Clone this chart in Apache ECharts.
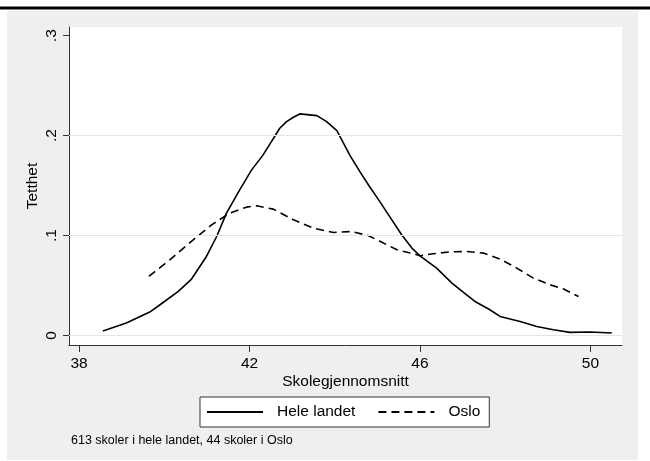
<!DOCTYPE html>
<html>
<head>
<meta charset="utf-8">
<script src="https://cdn.jsdelivr.net/npm/echarts@6/dist/echarts.min.js"></script>
<style>
html,body{margin:0;padding:0;background:#fff;}
#chart{width:650px;height:461px;}
</style>
</head>
<body>
<div id="chart"></div>
<script>
// ---- data ----
const landetX = [38.56, 39.11, 39.66, 39.90, 40.33, 40.64, 40.99, 41.23, 41.46, 41.77, 42.05, 42.32, 42.71, 42.87, 43.03, 43.18, 43.58, 43.81, 44.05, 44.36, 44.59, 44.80, 45.03, 45.34, 45.57, 45.81, 46.00, 46.39, 46.75, 47.02, 47.29, 47.61, 47.88, 48.35, 48.74, 49.13, 49.52, 50.00, 50.50];
const landetY = [0.0044, 0.0124, 0.0234, 0.0307, 0.044, 0.0564, 0.079, 0.099, 0.1224, 0.1457, 0.1657, 0.1807, 0.2074, 0.214, 0.2184, 0.2217, 0.220, 0.214, 0.205, 0.180, 0.164, 0.150, 0.1357, 0.1157, 0.1007, 0.0874, 0.0797, 0.0674, 0.0524, 0.043, 0.034, 0.0264, 0.019, 0.014, 0.009, 0.0057, 0.003, 0.0034, 0.0024];
const osloX = [39.64, 40.13, 40.68, 41.11, 41.54, 41.93, 42.17, 42.56, 43.03, 43.50, 43.97, 44.39, 44.78, 45.07, 45.46, 45.85, 46.00, 46.31, 46.71, 47.10, 47.49, 47.88, 48.27, 48.66, 49.05, 49.37, 49.72];
const osloY = [0.059, 0.0757, 0.0957, 0.1107, 0.1224, 0.1284, 0.1297, 0.1264, 0.1157, 0.1074, 0.103, 0.104, 0.100, 0.094, 0.0857, 0.0817, 0.0797, 0.0817, 0.0837, 0.084, 0.0824, 0.0764, 0.0674, 0.0574, 0.0507, 0.0464, 0.039];
const xTicks = [38, 42, 46, 50];
const yTicks = [0, 0.1, 0.2, 0.3];
const yTickLabels = ['0', '.1', '.2', '.3'];
const gridLines = [0, 0.1, 0.2];
const seriesNames = ['Hele landet', 'Oslo'];
const xTitle = 'Skolegjennomsnitt';
const yTitle = 'Tetthet';
const note = '613 skoler i hele landet, 44 skoler i Oslo';

const zip = (xs, ys) => xs.map((x, i) => [x, ys[i]]);
const FONT = '"Liberation Sans", Arial, sans-serif';

const chart = echarts.init(document.getElementById('chart'), null, {renderer: 'canvas'});
chart.setOption({
  animation: false,
  backgroundColor: '#ffffff',
  graphic: [
    {type: 'rect', z: -10, shape: {x: 7, y: 11, width: 631, height: 449}, style: {fill: '#efefef'}},
    {type: 'rect', z: -10, shape: {x: 0, y: 6.5, width: 650, height: 3}, style: {fill: '#000'}},
    {type: 'text', left: 71, top: 434, style: {text: note, font: '12.5px ' + FONT, fill: '#000'}}
  ],
  grid: {left: 69, right: 28, top: 27, bottom: 116, show: true, backgroundColor: '#ffffff', borderWidth: 0},
  legend: {
    data: seriesNames,
    left: 200, top: 397,
    padding: [7, 9, 7, 6],
    backgroundColor: '#ffffff',
    borderColor: '#333',
    borderWidth: 1,
    borderRadius: 0,
    itemWidth: 56, itemHeight: 14, itemGap: 22,
    itemStyle: {color: 'rgba(0,0,0,0)', borderColor: 'rgba(0,0,0,0)', borderWidth: 0, opacity: 0},
    textStyle: {fontSize: 15.5, color: '#000', fontFamily: FONT, padding: [0, 0, 0, 9]}
  },
  xAxis: {
    type: 'value', min: 37.765, max: 50.74,
    name: xTitle, nameLocation: 'middle', nameGap: 29, nameMoveOverlap: false,
    nameTextStyle: {fontSize: 15.5, color: '#000', fontFamily: FONT},
    axisLine: {onZero: false, lineStyle: {color: '#333', width: 1}},
    axisTick: {customValues: xTicks, length: 7, lineStyle: {color: '#333'}},
    axisLabel: {customValues: xTicks, margin: 11, fontSize: 15.5, color: '#000', fontFamily: FONT},
    splitLine: {show: false}
  },
  yAxis: {
    type: 'value', min: -0.0096, max: 0.3087,
    name: yTitle, nameLocation: 'middle', nameGap: 28, nameMoveOverlap: false,
    nameTextStyle: {fontSize: 15.5, color: '#000', fontFamily: FONT},
    axisLine: {onZero: false, lineStyle: {color: '#333', width: 1}},
    axisTick: {customValues: yTicks, length: 6, lineStyle: {color: '#333'}},
    axisLabel: {customValues: yTicks, rotate: 90, margin: 9, fontSize: 15.5, color: '#000', fontFamily: FONT,
      formatter: v => { const i = yTicks.findIndex(t => Math.abs(t - v) < 1e-9); return i >= 0 ? yTickLabels[i] : ''; }},
    splitLine: {show: false}
  },
  series: [
    {
      name: '_grid', type: 'line', data: [], z: 1, silent: true,
      markLine: {silent: true, symbol: 'none', label: {show: false},
        lineStyle: {color: '#e4e4e4', width: 1, type: 'solid'},
        data: gridLines.map(v => ({yAxis: v}))}
    },
    {
      name: seriesNames[0], type: 'line', z: 3, data: zip(landetX, landetY),
      symbol: 'none', smooth: false,
      lineStyle: {color: '#000', width: 1.6, type: 'solid'},
      itemStyle: {color: '#000'}
    },
    {
      name: seriesNames[1], type: 'line', z: 3, data: zip(osloX, osloY),
      symbol: 'none', smooth: false,
      lineStyle: {color: '#000', width: 1.6, type: [8, 5]},
      itemStyle: {color: '#000'}
    }
  ]
});
</script>
</body>
</html>
